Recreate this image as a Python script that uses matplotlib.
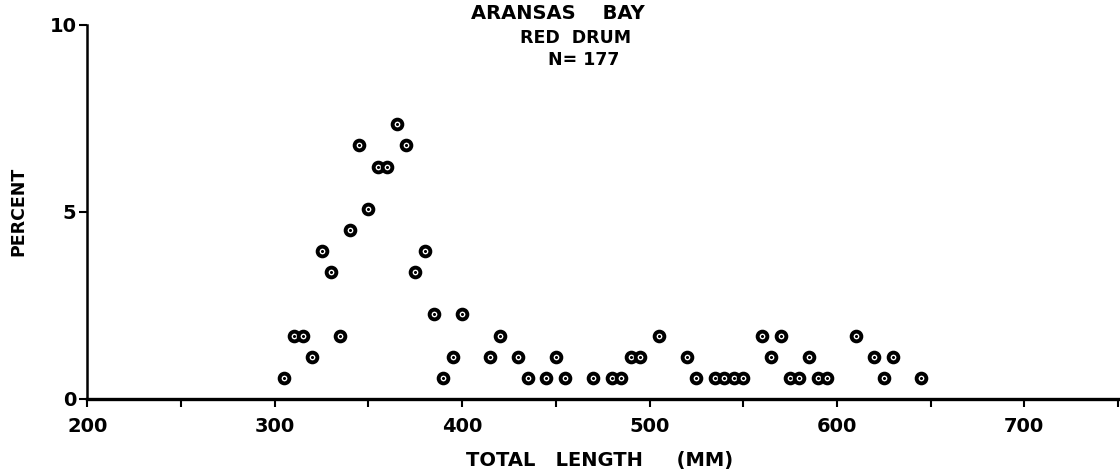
import matplotlib
matplotlib.use('Agg')
from matplotlib import pyplot as plt

# total length (mm) bins and percent of catch
length_mm = [305, 310, 315, 320, 325, 330, 335, 340, 345, 350,
             355, 360, 365, 370, 375, 380, 385, 390, 395, 400,
             415, 420, 430, 435, 445, 450, 455, 470, 480, 485,
             490, 495, 505, 520, 525, 535, 540, 545, 550, 560,
             565, 570, 575, 580, 585, 590, 595, 610, 620, 625,
             630, 645]
percent = [0.56, 1.69, 1.69, 1.13, 3.95, 3.39, 1.69, 4.52, 6.78, 5.08,
           6.21, 6.21, 7.34, 6.78, 3.39, 3.95, 2.26, 0.56, 1.13, 2.26,
           1.13, 1.69, 1.13, 0.56, 0.56, 1.13, 0.56, 0.56, 0.56, 0.56,
           1.13, 1.13, 1.69, 1.13, 0.56, 0.56, 0.56, 0.56, 0.56, 1.69,
           1.13, 1.69, 0.56, 0.56, 1.13, 0.56, 0.56, 1.69, 1.13, 0.56,
           1.13, 0.56]

x_ticks = [200, 250, 300, 350, 400, 450, 500, 550, 600, 650, 700, 750]
x_labels = ['200', '', '300', '', '400', '', '500', '', '600', '', '700', '']
y_ticks = [0, 5, 10]

fig = plt.figure(figsize=(11.2, 4.76), dpi=100)
fig.patch.set_facecolor('white')
ax = fig.add_axes([0.0781, 0.1618, 0.920, 0.786])

# ringed markers: black ring, white inside, black dot in the middle
ax.plot(length_mm, percent, 'o', ms=7.0, mfc='white', mec='black', mew=2.8,
        clip_on=False, zorder=3)
ax.plot(length_mm, percent, 'o', ms=2.2, mfc='black', mec='black', mew=0,
        clip_on=False, zorder=4)

ax.set_xlim(200, 750)
ax.set_ylim(0, 10)
ax.spines['top'].set_visible(False)
ax.spines['right'].set_visible(False)
ax.spines['bottom'].set_linewidth(2.4)
ax.spines['left'].set_linewidth(1.8)

ax.set_xticks(x_ticks)
ax.set_xticklabels(x_labels)
ax.set_yticks(y_ticks)
ax.set_yticklabels([str(v) for v in y_ticks])
ax.tick_params(axis='x', direction='out', length=6, width=1.5, pad=7,
               labelsize=14)
ax.tick_params(axis='y', direction='out', length=6, width=1.5, pad=2,
               labelsize=14)
for lab in ax.get_xticklabels() + ax.get_yticklabels():
    lab.set_fontweight('bold')

ax.set_xlabel('TOTAL   LENGTH     (MM)', fontsize=14, fontweight='bold')
ax.xaxis.set_label_coords(0.497, -0.139)
fig.text(0.016, 0.555, 'PERCENT', rotation=90, ha='center', va='center',
         fontsize=12.5, fontweight='bold')

fig.text(0.498, 0.972, 'ARANSAS    BAY', ha='center', va='center',
         fontsize=14, fontweight='bold')
fig.text(0.514, 0.920, 'RED  DRUM', ha='center', va='center',
         fontsize=12.5, fontweight='bold')
fig.text(0.521, 0.874, 'N= 177', ha='center', va='center',
         fontsize=12.5, fontweight='bold')

plt.savefig('out.png', dpi=100, facecolor='white')
